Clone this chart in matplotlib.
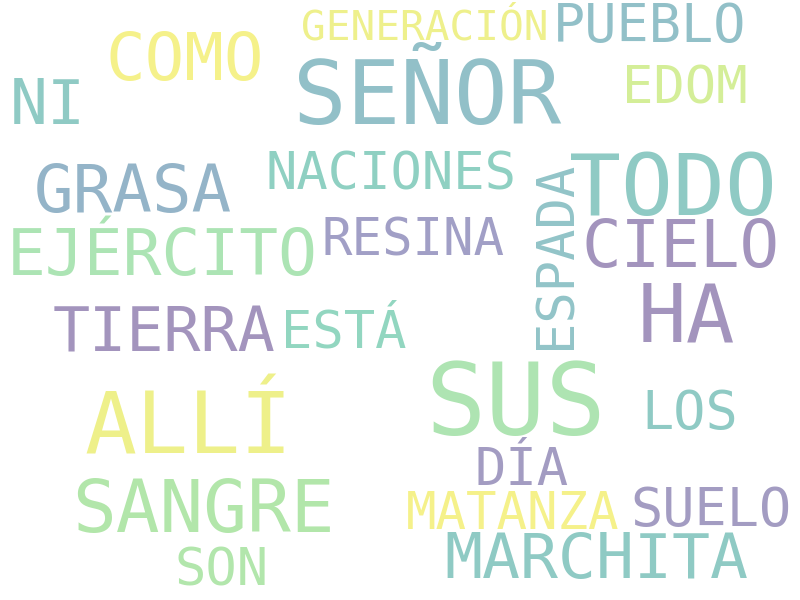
import matplotlib
matplotlib.use("Agg")
import matplotlib.pyplot as plt

# words of the cloud and their size (cap height in pixels, ~ word weight)
words = ["SEÑOR", "SUS", "TODO", "ALLÍ", "HA", "SANGRE", "CIELO", "COMO",
         "GRASA", "EJÉRCITO", "NI", "TIERRA", "MARCHITA", "PUEBLO", "LOS",
         "SUELO", "NACIONES", "EDOM", "ESPADA", "ESTÁ", "SON", "DÍA",
         "RESINA", "MATANZA", "GENERACIÓN"]
weights = [65, 73, 63, 63, 59, 53, 48, 48,
           48, 47, 46, 45, 46, 39, 39,
           39, 38, 38, 38, 38, 38, 38,
           37, 37, 30]

# layout: centre x, baseline y (pixels from top), rotation
layout = {
    "SEÑOR": (427, 124, 0), "SUS": (516, 435, 0), "TODO": (673, 215, 0),
    "ALLÍ": (188, 453, 0), "HA": (686, 342, 0), "SANGRE": (203, 532, 0),
    "CIELO": (681, 267, 0), "COMO": (185, 80, 0), "GRASA": (133, 212, 0),
    "EJÉRCITO": (162, 275, 0), "NI": (48, 124, 0), "TIERRA": (164, 352, 0),
    "MARCHITA": (596, 578, 0), "PUEBLO": (650, 42, 0), "LOS": (690, 429, 0),
    "SUELO": (711, 526, 0), "NACIONES": (391, 190, 0), "EDOM": (685, 103, 0),
    "ESPADA": (570, 255, 90), "ESTÁ": (344, 348, 0), "SON": (222, 585, 0),
    "DÍA": (522, 485, 0), "RESINA": (413, 255, 0), "MATANZA": (513, 529, 0),
    "GENERACIÓN": (425, 40, 0),
}

colors = {
    "SEÑOR": "#92c0c8", "SUS": "#aee4b2", "TODO": "#8fcac4", "ALLÍ": "#eef08a",
    "HA": "#a394bd", "SANGRE": "#b2e6aa", "CIELO": "#a394bd", "COMO": "#f5f18a",
    "GRASA": "#94b4c8", "EJÉRCITO": "#ace4b4", "NI": "#8fcac4",
    "TIERRA": "#a394bd", "MARCHITA": "#8fcac4", "PUEBLO": "#92c0c8",
    "LOS": "#8fcac4", "SUELO": "#a39cc2", "NACIONES": "#8fd0c2",
    "EDOM": "#d4ee98", "ESPADA": "#92c4c8", "ESTÁ": "#92d6c0",
    "SON": "#b2e6ac", "DÍA": "#a39cc2", "RESINA": "#a19fc6",
    "MATANZA": "#f5f18a", "GENERACIÓN": "#eef08c",
}

fig = plt.figure(figsize=(8, 6), dpi=100)
ax = fig.add_axes([0, 0, 1, 1])
ax.set_xlim(0, 800)
ax.set_ylim(600, 0)
ax.axis("off")

for w, cap in zip(words, weights):
    x, y, rot = layout[w]
    # DejaVu Sans Mono cap height is 0.729 em -> points ~ pixels / 1.0125
    size = cap / 1.0125
    ax.text(x, y, w, fontsize=size, family="DejaVu Sans Mono",
            color=colors[w], ha="center", va="baseline",
            rotation=rot, rotation_mode="anchor")

fig.savefig("out.png", dpi=100, facecolor="white")
